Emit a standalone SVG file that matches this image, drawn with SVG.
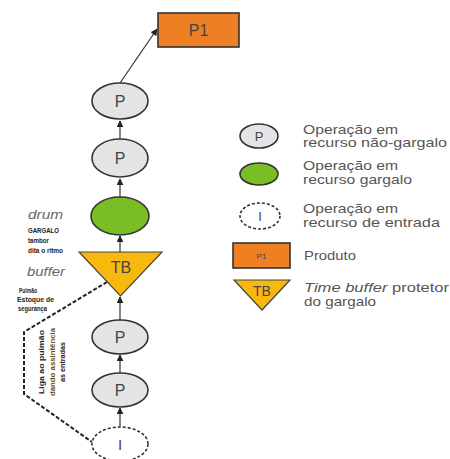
<svg xmlns="http://www.w3.org/2000/svg" width="450" height="459" viewBox="0 0 450 459">
<style>
.op{fill:#e4e4e4;stroke:#333;stroke-width:1.6}
.gg{fill:#78be24;stroke:#333;stroke-width:1.6}
.in{fill:#fff;stroke:#333;stroke-width:1.6;stroke-dasharray:3 2}
.tb{fill:#f9b80e;stroke:#444;stroke-width:1.2}
.pr{fill:#ee7f22;stroke:#333;stroke-width:1.6}
.lbl{font-family:"Liberation Sans",Arial,sans-serif;fill:#444;text-anchor:middle}
.leg{font-family:"Liberation Sans",Arial,sans-serif;font-size:12.6px;fill:#555}
.it{font-family:"Liberation Sans",Arial,sans-serif;font-style:italic;font-size:12px;fill:#666}
.sm{font-family:"Liberation Sans",Arial,sans-serif;font-weight:bold;font-size:7.5px;fill:#222}
.conn{stroke:#333;stroke-width:1.2;fill:none}
</style>
<defs>
<marker id="ah" viewBox="0 0 10 10" refX="9" refY="5" markerWidth="7" markerHeight="7" markerUnits="userSpaceOnUse" orient="auto">
<path d="M0,0 L10,5 L0,10 z" fill="#222"/>
</marker>
</defs>
<rect width="450" height="459" fill="#fff"/>

<g id="connectors">
<line class="conn" x1="120" y1="83" x2="157" y2="29" marker-end="url(#ah)"/>
<line class="conn" x1="120" y1="139" x2="120" y2="121" marker-end="url(#ah)"/>
<line class="conn" x1="120" y1="197" x2="120" y2="179" marker-end="url(#ah)"/>
<line class="conn" x1="120" y1="252" x2="120" y2="236" marker-end="url(#ah)"/>
<line class="conn" x1="120" y1="320" x2="120" y2="297" marker-end="url(#ah)"/>
<line class="conn" x1="120" y1="373" x2="120" y2="355" marker-end="url(#ah)"/>
<line class="conn" x1="120" y1="427" x2="120" y2="408" marker-end="url(#ah)"/>
<polyline points="107,282 24,332 24,394 92,442" fill="none" stroke="#222" stroke-width="2" stroke-dasharray="4 2"/>
</g>

<g id="p1">
<rect class="pr" x="158" y="13" width="81" height="34"/>
<text class="lbl" x="198.5" y="36" font-size="16" fill="#333">P1</text>
</g>
<g id="op1">
<ellipse class="op" cx="120" cy="101" rx="28" ry="18"/>
<text class="lbl" x="120" y="107" font-size="16">P</text>
</g>
<g id="op2">
<ellipse class="op" cx="120" cy="158" rx="28" ry="19"/>
<text class="lbl" x="120" y="164" font-size="16">P</text>
</g>
<g id="drum">
<ellipse class="gg" cx="120" cy="216" rx="29" ry="19"/>
</g>
<g id="buffer">
<polygon class="tb" points="79,252 162,252 120.5,296"/>
<text class="lbl" x="121" y="273" font-size="16" fill="#333">TB</text>
</g>
<g id="op3">
<ellipse class="op" cx="120" cy="337" rx="28" ry="17"/>
<text class="lbl" x="120" y="343" font-size="16">P</text>
</g>
<g id="op4">
<ellipse class="op" cx="120" cy="390" rx="28" ry="17"/>
<text class="lbl" x="120" y="396" font-size="16">P</text>
</g>
<g id="input">
<ellipse class="in" cx="120" cy="444" rx="28" ry="17"/>
<text class="lbl" x="120" y="450" font-size="15">I</text>
</g>

<g id="left-labels">
<text class="it" x="28" y="219" textLength="35" lengthAdjust="spacingAndGlyphs">drum</text>
<text class="sm" x="28" y="233" textLength="31" lengthAdjust="spacingAndGlyphs">GARGALO</text>
<text class="sm" x="28" y="243" textLength="21" lengthAdjust="spacingAndGlyphs">tambor</text>
<text class="sm" x="28" y="253" textLength="35" lengthAdjust="spacingAndGlyphs">dita o ritmo</text>
<text class="it" x="27" y="276" textLength="38" lengthAdjust="spacingAndGlyphs">buffer</text>
<text class="sm" x="19" y="293" textLength="18" lengthAdjust="spacingAndGlyphs">Pulmão</text>
<text class="sm" x="17" y="302" textLength="37" lengthAdjust="spacingAndGlyphs">Estoque de</text>
<text class="sm" x="18" y="311" textLength="29" lengthAdjust="spacingAndGlyphs">segurança</text>
<g transform="translate(44,362) rotate(-90)">
<text class="sm" x="0" y="0" text-anchor="middle" textLength="64" lengthAdjust="spacingAndGlyphs">Liga ao pulmão</text>
<text class="sm" x="0" y="11" text-anchor="middle" textLength="68" lengthAdjust="spacingAndGlyphs" style="fill:#6b4e12">dando assintência</text>
<text class="sm" x="0" y="21" text-anchor="middle" textLength="40" lengthAdjust="spacingAndGlyphs">as entradas</text>
</g>
</g>

<g id="legend-op">
<ellipse class="op" cx="259" cy="136" rx="19" ry="12" stroke-width="1.3"/>
<text class="lbl" x="259" y="141" font-size="13">P</text>
<text class="leg" x="303" y="134" textLength="95" lengthAdjust="spacingAndGlyphs">Operação em</text>
<text class="leg" x="303" y="147" textLength="144" lengthAdjust="spacingAndGlyphs">recurso não-gargalo</text>
</g>
<g id="legend-drum">
<ellipse class="gg" cx="259" cy="174" rx="19" ry="11" stroke-width="1.3"/>
<text class="leg" x="303" y="170" textLength="95" lengthAdjust="spacingAndGlyphs">Operação em</text>
<text class="leg" x="303" y="184" textLength="109" lengthAdjust="spacingAndGlyphs">recurso gargalo</text>
</g>
<g id="legend-input">
<ellipse class="in" cx="260" cy="216" rx="20" ry="13" stroke-width="1.3"/>
<text class="lbl" x="260" y="221" font-size="13">I</text>
<text class="leg" x="303" y="213" textLength="95" lengthAdjust="spacingAndGlyphs">Operação em</text>
<text class="leg" x="303" y="227" textLength="137" lengthAdjust="spacingAndGlyphs">recurso de entrada</text>
</g>
<g id="legend-product">
<rect class="pr" x="233" y="243" width="57" height="25" stroke-width="1.3"/>
<text class="lbl" x="261.5" y="259" font-size="8" fill="#5a2a00">P1</text>
<text class="leg" x="304" y="260" textLength="52" lengthAdjust="spacingAndGlyphs">Produto</text>
</g>
<g id="legend-buffer">
<polygon class="tb" points="234,280 290,280 262,310"/>
<text class="lbl" x="262" y="296" font-size="14" fill="#333">TB</text>
<text class="leg" x="304" y="292" textLength="145" lengthAdjust="spacingAndGlyphs"><tspan font-style="italic">Time buffer</tspan> protetor</text>
<text class="leg" x="304" y="306" textLength="72" lengthAdjust="spacingAndGlyphs">do gargalo</text>
</g>
</svg>
